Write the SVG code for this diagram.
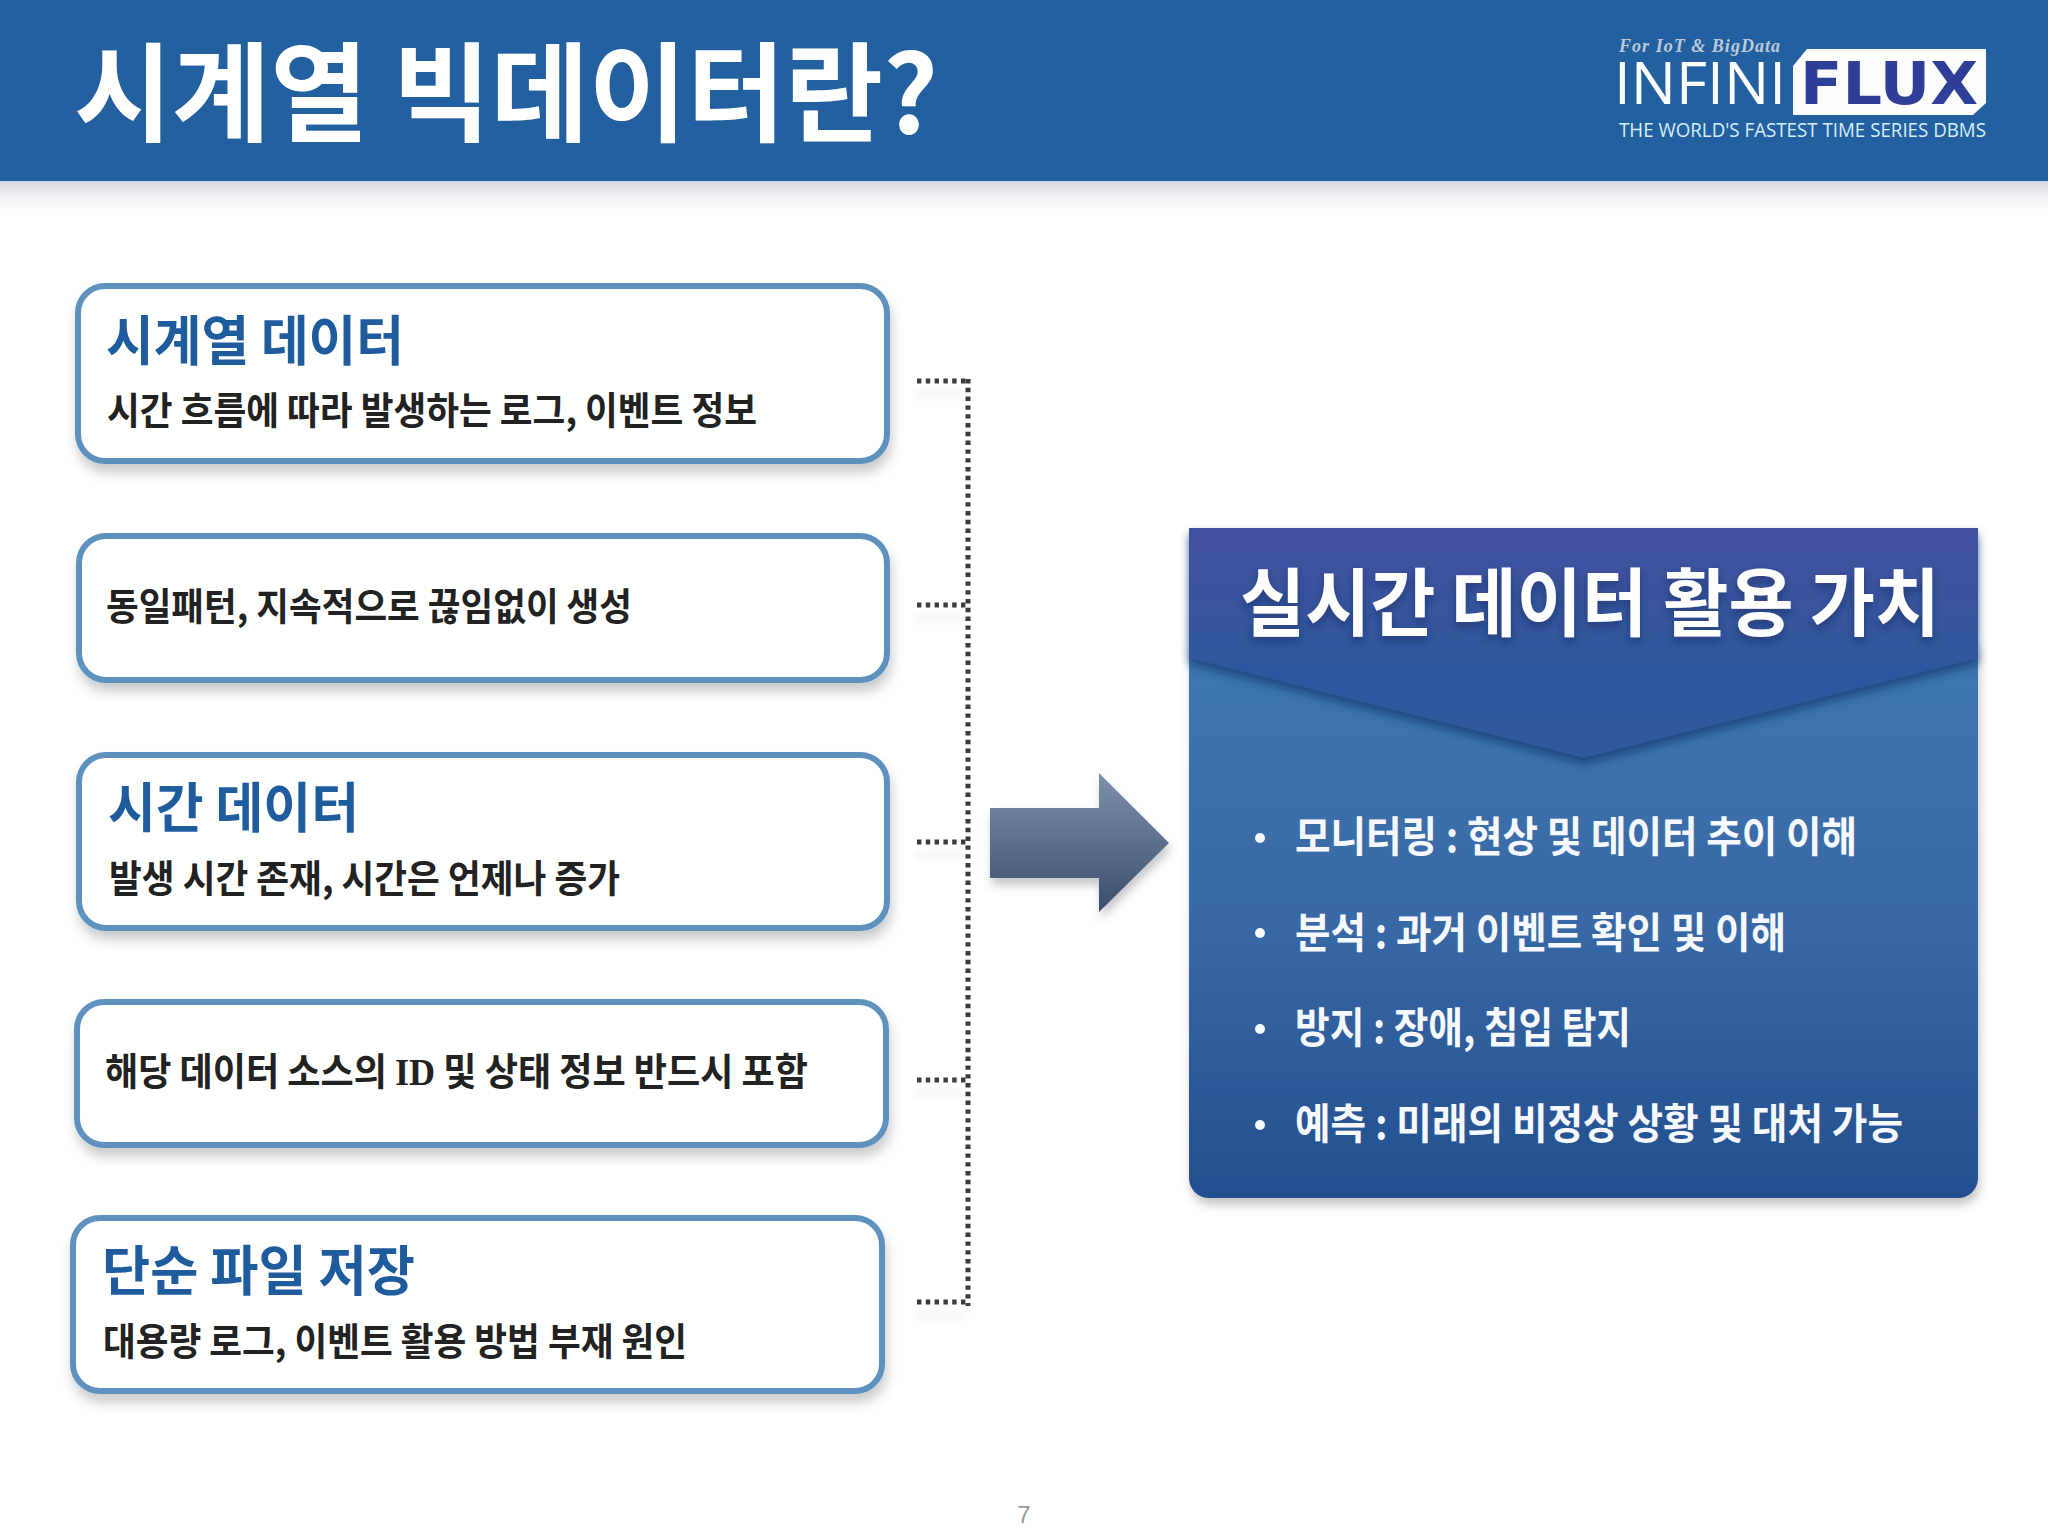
<svg xmlns="http://www.w3.org/2000/svg" width="2048" height="1536" viewBox="0 0 2048 1536">
<defs>
<linearGradient id="bandShade" x1="0" y1="0" x2="0" y2="1"><stop offset="0" stop-color="#d4d6df"/><stop offset="0.5" stop-color="#f0f0f3"/><stop offset="1" stop-color="#ffffff"/></linearGradient>
<linearGradient id="arrowFill" x1="0" y1="0" x2="0" y2="1"><stop offset="0" stop-color="#7f90ab"/><stop offset="1" stop-color="#3b4d6a"/></linearGradient>
<linearGradient id="bodyFill" x1="0" y1="0" x2="0" y2="1"><stop offset="0" stop-color="#3f76b0"/><stop offset="0.5" stop-color="#3869a6"/><stop offset="1" stop-color="#234f8e"/></linearGradient>
<linearGradient id="headFill" x1="0" y1="0" x2="0" y2="1"><stop offset="0" stop-color="#4350a0"/><stop offset="0.6" stop-color="#2f579c"/><stop offset="1" stop-color="#30569c"/></linearGradient>
<filter id="boxShadow" x="-5%" y="-10%" width="110%" height="125%"><feDropShadow dx="2" dy="9" stdDeviation="6" flood-color="#000" flood-opacity="0.2"/></filter>
<filter id="softShadow" x="-10%" y="-10%" width="120%" height="130%"><feDropShadow dx="2" dy="7" stdDeviation="5" flood-color="#000" flood-opacity="0.22"/></filter>
<filter id="headShadow" x="-5%" y="-5%" width="110%" height="125%"><feDropShadow dx="0" dy="6" stdDeviation="4" flood-color="#143a70" flood-opacity="0.75"/></filter>
<filter id="textShadow" x="-5%" y="-20%" width="110%" height="150%"><feDropShadow dx="0" dy="5" stdDeviation="4" flood-color="#0c2a60" flood-opacity="0.6"/></filter>
<filter id="lineShadow" x="-20%" y="-20%" width="140%" height="140%"><feOffset dy="13" dx="0"/><feGaussianBlur stdDeviation="4"/><feComponentTransfer><feFuncA type="linear" slope="0.12"/></feComponentTransfer><feMerge><feMergeNode/><feMergeNode in="SourceGraphic"/></feMerge></filter>
</defs>
<style>
text{font-family:"Noto Sans CJK KR","Noto Sans",sans-serif}
.box{fill:#fff;stroke:#5f91bf;stroke-width:6}
.h{font-size:54px;font-weight:700;fill:#1f5c9e}
.s{font-size:38px;font-weight:700;fill:#222}
.b{font-size:42px;font-weight:700;fill:#f5f8fc}
.dot{fill:none;stroke:#3a3a40;stroke-width:5;stroke-dasharray:4.4 4.4}
</style>
<rect width="2048" height="1536" fill="#fff"/>
<g id="header">
<rect x="0" y="181" width="2048" height="30" fill="url(#bandShade)"/>
<rect x="0" y="0" width="2048" height="181" fill="#22609f"/>
<text x="74" y="133" font-size="108" font-weight="700" fill="#fff" textLength="864" lengthAdjust="spacingAndGlyphs">시계열 빅데이터란?</text>
</g>
<g id="logo">
<text x="1619" y="52" font-size="18" font-weight="700" font-style="italic" fill="#bccadb" style="font-family:'Liberation Serif',serif" textLength="161" lengthAdjust="spacing">For IoT &amp; BigData</text>
<text x="1614" y="104" font-size="58" font-weight="400" fill="#fff" style="font-family:'Open Sans',sans-serif" textLength="172" lengthAdjust="spacingAndGlyphs">INFINI</text>
<polygon points="1807,49 1986,49 1986,103 1973,115 1793,115 1793,66" fill="#fdfdfe"/>
<text x="1800" y="104" font-size="58" font-weight="700" fill="#2f3f98" style="font-family:'DejaVu Sans',sans-serif" textLength="178" lengthAdjust="spacingAndGlyphs">FLUX</text>
<text x="1619" y="137" font-size="20" font-weight="400" fill="#d8eefa" style="font-family:'Open Sans',sans-serif" textLength="367" lengthAdjust="spacingAndGlyphs">THE WORLD'S FASTEST TIME SERIES DBMS</text>
</g>
<g id="connectors">
<g filter="url(#lineShadow)"><path class="dot" d="M917 381H968M917 605H968M917 842H968M917 1080H968M917 1302H968"/></g>
<path class="dot" d="M968 379V1306"/>
</g>
<g id="box1">
<rect class="box" x="78" y="286" width="809" height="175" rx="27" filter="url(#boxShadow)"/>
<text class="h" x="106" y="361" textLength="298" lengthAdjust="spacingAndGlyphs">시계열 데이터</text>
<text class="s" x="107" y="424" textLength="650" lengthAdjust="spacingAndGlyphs">시간 흐름에 따라 발생하는 로그, 이벤트 정보</text>
</g>
<g id="box2">
<rect class="box" x="79" y="536" width="808" height="144" rx="27" filter="url(#boxShadow)"/>
<text class="s" x="106" y="620" textLength="526" lengthAdjust="spacingAndGlyphs">동일패턴, 지속적으로 끊임없이 생성</text>
</g>
<g id="box3">
<rect class="box" x="79" y="755" width="808" height="173" rx="27" filter="url(#boxShadow)"/>
<text class="h" x="108" y="828" textLength="251" lengthAdjust="spacingAndGlyphs">시간 데이터</text>
<text class="s" x="109" y="892" textLength="511" lengthAdjust="spacingAndGlyphs">발생 시간 존재, 시간은 언제나 증가</text>
</g>
<g id="box4">
<rect class="box" x="77" y="1002" width="809" height="143" rx="27" filter="url(#boxShadow)"/>
<text class="s" x="105" y="1085" textLength="703" lengthAdjust="spacingAndGlyphs">해당 데이터 소스의 <tspan style="font-family:'Liberation Serif',serif" font-weight="700">ID</tspan> 및 상태 정보 반드시 포함</text>
</g>
<g id="box5">
<rect class="box" x="73" y="1218" width="809" height="173" rx="27" filter="url(#boxShadow)"/>
<text class="h" x="102" y="1291" textLength="313" lengthAdjust="spacingAndGlyphs">단순 파일 저장</text>
<text class="s" x="103" y="1355" textLength="584" lengthAdjust="spacingAndGlyphs">대용량 로그, 이벤트 활용 방법 부재 원인</text>
</g>
<g id="arrow">
<polygon points="990,808 1099,808 1099,773 1169,843 1099,912 1099,878 990,878" fill="url(#arrowFill)" filter="url(#softShadow)"/>
</g>
<g id="panel">
<path d="M1189 640H1978V1178a20 20 0 0 1 -20 20H1209a20 20 0 0 1 -20 -20Z" fill="url(#bodyFill)" filter="url(#softShadow)"/>
<polygon points="1189,528 1978,528 1978,658 1584,758 1189,658" fill="url(#headFill)" filter="url(#headShadow)"/>
<text x="1240" y="630" font-size="74" font-weight="700" fill="#fff" filter="url(#textShadow)" textLength="700" lengthAdjust="spacingAndGlyphs">실시간 데이터 활용 가치</text>
<g fill="#f5f8fc"><circle cx="1260" cy="838" r="5"/><circle cx="1260" cy="933" r="5"/><circle cx="1260" cy="1029" r="5"/><circle cx="1260" cy="1125" r="5"/></g>
<text class="b" x="1295" y="852" textLength="562" lengthAdjust="spacingAndGlyphs">모니터링 : 현상 및 데이터 추이 이해</text>
<text class="b" x="1295" y="948" textLength="491" lengthAdjust="spacingAndGlyphs">분석 : 과거 이벤트 확인 및 이해</text>
<text class="b" x="1295" y="1043" textLength="336" lengthAdjust="spacingAndGlyphs">방지 : 장애, 침입 탐지</text>
<text class="b" x="1295" y="1139" textLength="608" lengthAdjust="spacingAndGlyphs">예측 : 미래의 비정상 상황 및 대처 가능</text>
</g>
<g id="page"><text x="1024" y="1523" font-size="24" fill="#999" text-anchor="middle" style="font-family:'Liberation Sans',sans-serif">7</text></g>
</svg>
